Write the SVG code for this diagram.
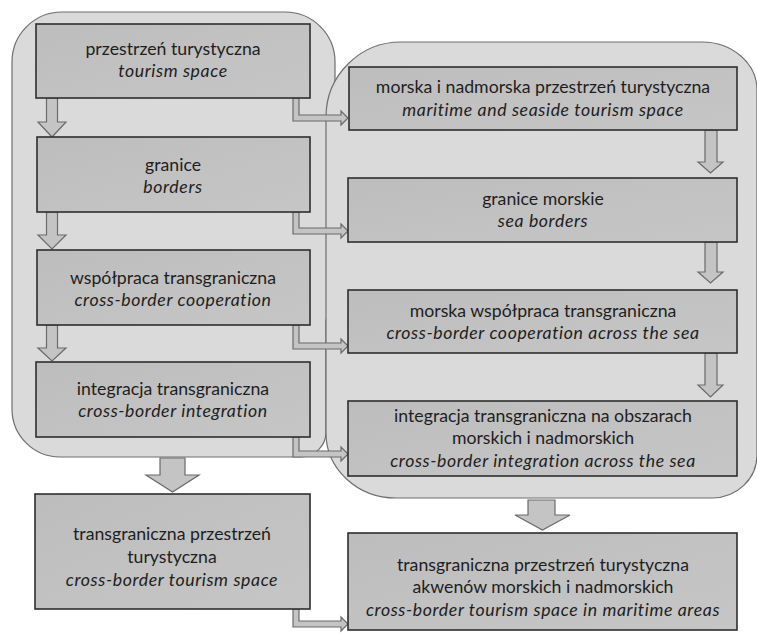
<svg xmlns="http://www.w3.org/2000/svg" width="757" height="638" viewBox="0 0 757 638">
<defs>
<linearGradient id="bg" x1="0" y1="0" x2="1" y2="1">
<stop offset="0" stop-color="#bdbdbd"/>
<stop offset="1" stop-color="#c6c6c6"/>
</linearGradient>
<style>
.cont{fill:#dadada;stroke:#6e6e6e;stroke-width:1.2}
.box{fill:url(#bg);stroke:#2e2e2e;stroke-width:1.6}
.arr{fill:#c4c4c4;stroke:#6a6a6a;stroke-width:1.2;stroke-linejoin:miter}
.t{font-family:Lato,"Liberation Sans",sans-serif;font-size:17.7px;fill:#1e1e1e;text-anchor:middle}
.i{font-style:italic;letter-spacing:0.6px}
</style>
</defs>
<rect width="757" height="638" fill="#ffffff"/>
<g id="containers">
<path id="left-container" class="cont" d="M62,12 H285 A50,50 0 0 1 335,62 V300 L326,320 V432 A25,25 0 0 1 301,457 H60 A48,48 0 0 1 12,409 V62 A50,50 0 0 1 62,12 Z"/>
<path id="right-container" class="cont" d="M401,42 H702 A55,48 0 0 1 757,90 V455 A45,43 0 0 1 712,498 H396 A70,65 0 0 1 326,433 V117 A75,75 0 0 1 401,42 Z"/>
</g>
<g id="connectors">
<path class="arr" d="M46.5,98 V122 H38 L52,137 L66,122 H57.5 V98 Z"/>
<path class="arr" d="M46.5,212 V235 H38 L52,249 L66,235 H57.5 V212 Z"/>
<path class="arr" d="M46.5,325 V348 H38 L52,361 L66,348 H57.5 V325 Z"/>
<path class="arr" d="M705,130 V162 H698 L710.5,173 L723,162 H717 V130 Z"/>
<path class="arr" d="M705,242 V272 H698 L710.5,283 L723,272 H717 V242 Z"/>
<path class="arr" d="M705,353 V385 H698 L710.5,397 L723,385 H717 V353 Z"/>
<path class="arr" d="M160,458 V475 H146 L172.5,492 L199,475 H185 V458 Z"/>
<path class="arr" d="M528,500 V515 H515 L542.5,530 L570,515 H555 V500 Z"/>
<path class="arr" d="M293,98 V121 H341 V125 L348,118 L341,111 V115 H299 V98 Z"/>
<path class="arr" d="M293,212 V234 H341 V238 L348,231 L341,224 V228 H299 V212 Z"/>
<path class="arr" d="M293,325 V349 H341 V353 L348,346 L341,339 V343 H299 V325 Z"/>
<path class="arr" d="M293,437 V457 H341 V461 L348,454 L341,447 V451 H299 V437 Z"/>
<path class="arr" d="M293,609 V627 H341 V631 L348,624 L341,617 V621 H299 V609 Z"/>
</g>
<g id="n1"><rect class="box" x="36" y="24" width="274" height="74"/>
<text class="t" x="173" y="55">przestrzeń turystyczna</text>
<text class="t i" x="173" y="77">tourism space</text></g>
<g id="n2"><rect class="box" x="37" y="137" width="273" height="75"/>
<text class="t" x="173" y="171">granice</text>
<text class="t i" x="173" y="193">borders</text></g>
<g id="n3"><rect class="box" x="37" y="250" width="273" height="75"/>
<text class="t" x="173" y="284">współpraca transgraniczna</text>
<text class="t i" x="173" y="306">cross-border cooperation</text></g>
<g id="n4"><rect class="box" x="36" y="362" width="274" height="75"/>
<text class="t" x="173" y="395">integracja transgraniczna</text>
<text class="t i" x="173" y="417">cross-border integration</text></g>
<g id="n5"><rect class="box" x="35" y="494" width="275" height="115"/>
<text class="t" x="172" y="540">transgraniczna przestrzeń</text>
<text class="t" x="172" y="563">turystyczna</text>
<text class="t i" x="172" y="586">cross-border tourism space</text></g>
<g id="r1"><rect class="box" x="349" y="67" width="388" height="63"/>
<text class="t" x="543" y="93">morska i nadmorska przestrzeń turystyczna</text>
<text class="t i" x="543" y="116">maritime and seaside tourism space</text></g>
<g id="r2"><rect class="box" x="348" y="178" width="389" height="64"/>
<text class="t" x="543" y="205">granice morskie</text>
<text class="t i" x="543" y="227">sea borders</text></g>
<g id="r3"><rect class="box" x="348" y="290" width="389" height="63"/>
<text class="t" x="543" y="317">morska współpraca transgraniczna</text>
<text class="t i" x="543" y="339">cross-border cooperation across the sea</text></g>
<g id="r4"><rect class="box" x="348" y="401" width="389" height="75"/>
<text class="t" x="543" y="422">integracja transgraniczna na obszarach</text>
<text class="t" x="543" y="444">morskich i nadmorskich</text>
<text class="t i" x="543" y="467">cross-border integration across the sea</text></g>
<g id="r5"><rect class="box" x="348" y="533" width="389" height="97"/>
<text class="t" x="543" y="571">transgraniczna przestrzeń turystyczna</text>
<text class="t" x="543" y="593">akwenów morskich i nadmorskich</text>
<text class="t i" x="543" y="616">cross-border tourism space in maritime areas</text></g>
</svg>
